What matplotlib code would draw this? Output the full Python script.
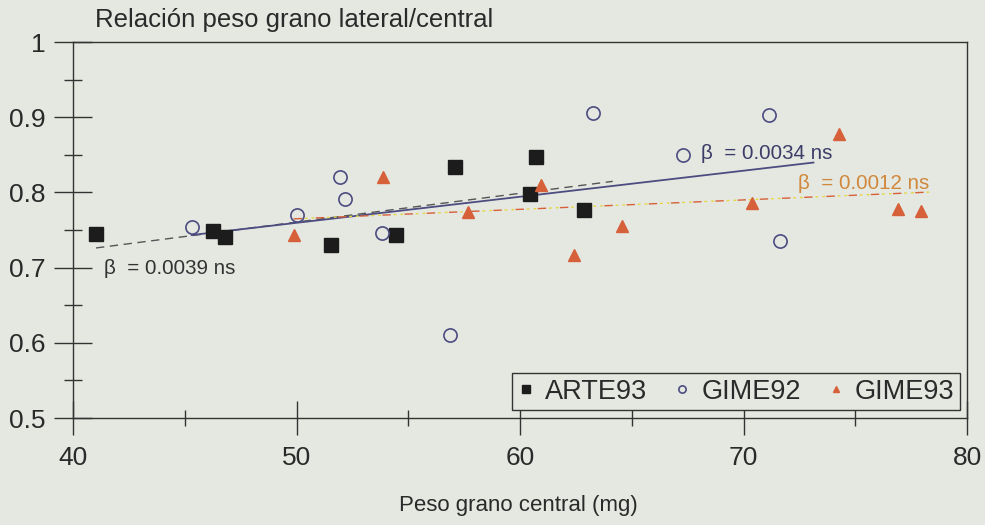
import numpy as np
import matplotlib
matplotlib.use("Agg")
import matplotlib.pyplot as plt
from matplotlib.ticker import MultipleLocator

# ---- data ----
arte93_x = [41.03, 46.25, 46.79, 51.56, 54.46, 57.10, 60.45, 60.71, 62.86]
arte93_y = [0.745, 0.749, 0.741, 0.730, 0.743, 0.834, 0.798, 0.847, 0.777]

gime92_x = [45.31, 50.0, 51.96, 52.19, 53.84, 56.88, 63.26, 67.28, 71.16, 71.65]
gime92_y = [0.754, 0.770, 0.820, 0.791, 0.746, 0.610, 0.906, 0.850, 0.903, 0.735]

gime93_x = [49.87, 53.88, 57.68, 60.94, 62.41, 64.55, 70.40, 74.29, 76.92, 77.95]
gime93_y = [0.743, 0.820, 0.774, 0.810, 0.717, 0.755, 0.786, 0.878, 0.778, 0.775]

# x-range over which each regression line is drawn in the original
arte93_fit_x = [41.03, 64.15]
gime92_fit_x = [45.31, 73.13]
gime93_fit_x = [49.87, 78.48]

series_names = ["ARTE93", "GIME92", "GIME93"]
beta_labels = ["β  = 0.0039 ns", "β  = 0.0034 ns", "β  = 0.0012 ns"]

xticks = [40, 50, 60, 70, 80]
yticks = [0.5, 0.6, 0.7, 0.8, 0.9, 1.0]
ytick_labels = ["0.5", "0.6", "0.7", "0.8", "0.9", "1"]

# ---- style ----
bg = "#e5e8e1"
c_arte = "#1c1c1c"
c_g92 = "#4c4c80"
c_g93 = "#d6603a"
c_text = "#2a2a2a"

plt.rcParams['font.family'] = ['Liberation Sans', 'DejaVu Sans']

fig = plt.figure(figsize=(9.85, 5.25), dpi=100, facecolor=bg)
ax = fig.add_axes([73 / 985, 1 - 418 / 525, 894 / 985, 376 / 525], facecolor=bg)

ax.set_xlim(40, 80)
ax.set_ylim(0.5, 1.0)

def fit_line(xs, ys, xr):
    b, a = np.polyfit(xs, ys, 1)
    xr = np.array(xr)
    return xr, a + b * xr

# regression lines
fx, fy = fit_line(arte93_x, arte93_y, arte93_fit_x)
ax.plot(fx, fy, color="#555555", lw=1.0, ls=(0, (6, 4)), zorder=2)
fx, fy = fit_line(gime92_x, gime92_y, gime92_fit_x)
ax.plot(fx, fy, color=c_g92, lw=1.3, ls="-", zorder=2)
fx, fy = fit_line(gime93_x, gime93_y, gime93_fit_x)
ax.plot(fx, fy, color=c_g93, lw=1.0, ls=(0, (6, 10)), zorder=2)
ax.plot(fx, fy, color="#e6d640", lw=1.0, ls=(8, (2, 3, 2, 9)), zorder=2)

# points
ax.plot(arte93_x, arte93_y, ls="none", marker="s", ms=9.5, color=c_arte,
        mec=c_arte, label=series_names[0], zorder=3)
ax.plot(gime92_x, gime92_y, ls="none", marker="o", ms=9.5, mfc="none",
        mec=c_g92, mew=1.2, label=series_names[1], zorder=3)
ax.plot(gime93_x, gime93_y, ls="none", marker="^", ms=8.5, color=c_g93,
        mec=c_g93, label=series_names[2], zorder=3)

# annotations
ax.text(41.4, 0.699, beta_labels[0], fontsize=14.8, color="#333333", va="center")
ax.text(68.1, 0.852, beta_labels[1], fontsize=14.8, color="#3c3c68", va="center")
ax.text(72.45, 0.812, beta_labels[2], fontsize=14.8, color="#d0883c", va="center")

# axes styling
for s in ax.spines.values():
    s.set_color("#333333")
    s.set_linewidth(1.0)
ax.set_xticks(xticks)
ax.set_yticks(yticks)
ax.set_yticklabels(ytick_labels)
ax.xaxis.set_minor_locator(MultipleLocator(5))
ax.yaxis.set_minor_locator(MultipleLocator(0.05))
ax.tick_params(which="both", direction="inout", width=1.0,
               color="#333333", labelsize=19, labelcolor=c_text,
               top=False, right=False)
ax.tick_params(axis="y", which="major", length=27, pad=6)
ax.tick_params(axis="y", which="minor", length=13)
ax.tick_params(axis="x", which="major", length=25, pad=8)
ax.tick_params(axis="x", which="minor", length=12)

fig.text(95 / 985, 1 - 20 / 525, "Relación peso grano lateral/central",
         fontsize=18.5, color=c_text, va="center", ha="left")
fig.text(518.5 / 985, 1 - 505 / 525, "Peso grano central (mg)", fontsize=16,
         color=c_text, va="center", ha="center")

leg = ax.legend(loc="lower right", ncol=3, fontsize=19.5, frameon=True,
                fancybox=False, edgecolor="#333333", facecolor=bg,
                framealpha=1, markerscale=0.55, handlelength=0.6,
                handletextpad=0.4, columnspacing=1.0, borderpad=0.2,
                borderaxespad=0, bbox_to_anchor=(0.992, 0.021))
leg.get_frame().set_linewidth(1.0)
for t in leg.get_texts():
    t.set_color(c_text)

fig.savefig("out.png", dpi=100, facecolor=bg)
